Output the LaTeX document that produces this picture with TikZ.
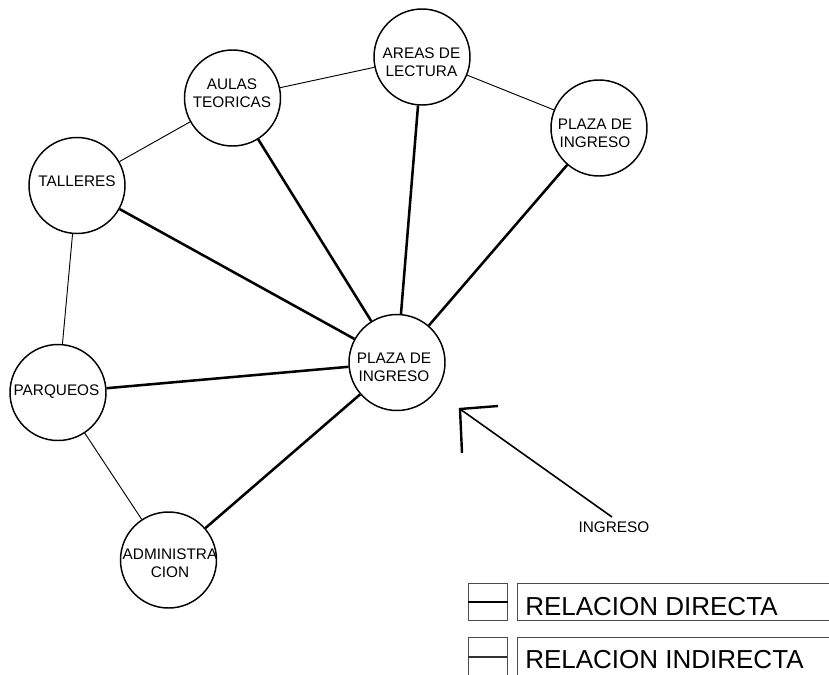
\documentclass[tikz,border=0pt]{standalone}
\usepackage{fontspec}
\setmainfont{Liberation Sans}
\begin{document}
\begin{tikzpicture}[x=0.75pt,y=-0.75pt,
  place/.style={circle, draw, line width=1.1pt, minimum size=72pt, inner sep=0pt},
  lbl/.style={align=center, font=\fontsize{11.5}{13.5}\selectfont, inner sep=0pt},
  direct/.style={line width=1.9pt},
  indirect/.style={line width=0.7pt},
  legbox/.style={draw=black!70, line width=0.8pt},
  legtext/.style={anchor=base west, inner sep=0pt, font=\fontsize{19.5}{22}\selectfont}]
\useasboundingbox (0,0) rectangle (829,675);
\clip (0,0) rectangle (829,675);
% nodes
\node[place] (areas) at (422,57) {};
\node[lbl] (tareas) at (421.5,62) {AREAS DE\\LECTURA};
\node[place] (aulas) at (232.5,98) {};
\node[lbl] (taulas) at (232,93.5) {AULAS\\TEORICAS};
\node[place] (plazaT) at (599,128) {};
\node[lbl] (tplazaT) at (595,133) {PLAZA DE\\INGRESO};
\node[place] (talleres) at (77,185.5) {};
\node[lbl] (ttalleres) at (77,181.5) {TALLERES};
\node[place] (plaza) at (397,362.5) {};
\node[lbl] (tplaza) at (394,367.5) {PLAZA DE\\INGRESO};
\node[place] (parqueos) at (58,392.5) {};
\node[lbl] (tparqueos) at (56.5,392) {PARQUEOS};
\node[place] (admin) at (168.5,560) {};
\node[lbl] (tadmin) at (170,563) {ADMINISTRA\\CION};
% indirect relations
\draw[indirect] (talleres) -- (aulas);
\draw[indirect] (aulas) -- (areas);
\draw[indirect] (areas) -- (plazaT);
\draw[indirect] (talleres) -- (parqueos);
\draw[indirect] (parqueos) -- (admin);
% direct relations
\draw[direct] (plaza) -- (aulas);
\draw[direct] (plaza) -- (areas);
\draw[direct] (plaza) -- (plazaT);
\draw[direct] (plaza) -- (talleres);
\draw[direct] (plaza) -- (parqueos);
\draw[direct] (plaza) -- (admin);
% entrance arrow
\coordinate (tip) at (460,409);
\coordinate (tail) at (612,517);
\coordinate (hr) at (498,406);
\coordinate (hd) at (462,453);
\draw[line width=1.2pt] (tail) -- (tip);
\draw[line width=1.8pt] (hr) -- (tip) -- (hd);
\node[lbl] (ingreso) at (614,527) {INGRESO};
% legend
\node[legbox, minimum width=29.25pt, minimum height=27.75pt, inner sep=0pt, anchor=north west] (lb1) at (468,583) {};
\draw[line width=1.8pt] (lb1.west) -- (lb1.east);
\node[legbox, minimum width=240pt, minimum height=27.75pt, inner sep=0pt, anchor=north west] (lt1) at (517,583) {};
\node[legtext] (ltx1) at (525,615) {RELACION DIRECTA};
\node[legbox, minimum width=29.25pt, minimum height=33pt, inner sep=0pt, anchor=north west] (lb2) at (468,637) {};
\draw[line width=0.8pt, black!80] (468,657) -- (507,657);
\node[legbox, minimum width=240pt, minimum height=33pt, inner sep=0pt, anchor=north west] (lt2) at (517,637) {};
\node[legtext] (ltx2) at (525,668) {RELACION INDIRECTA};
\end{tikzpicture}
\end{document}
